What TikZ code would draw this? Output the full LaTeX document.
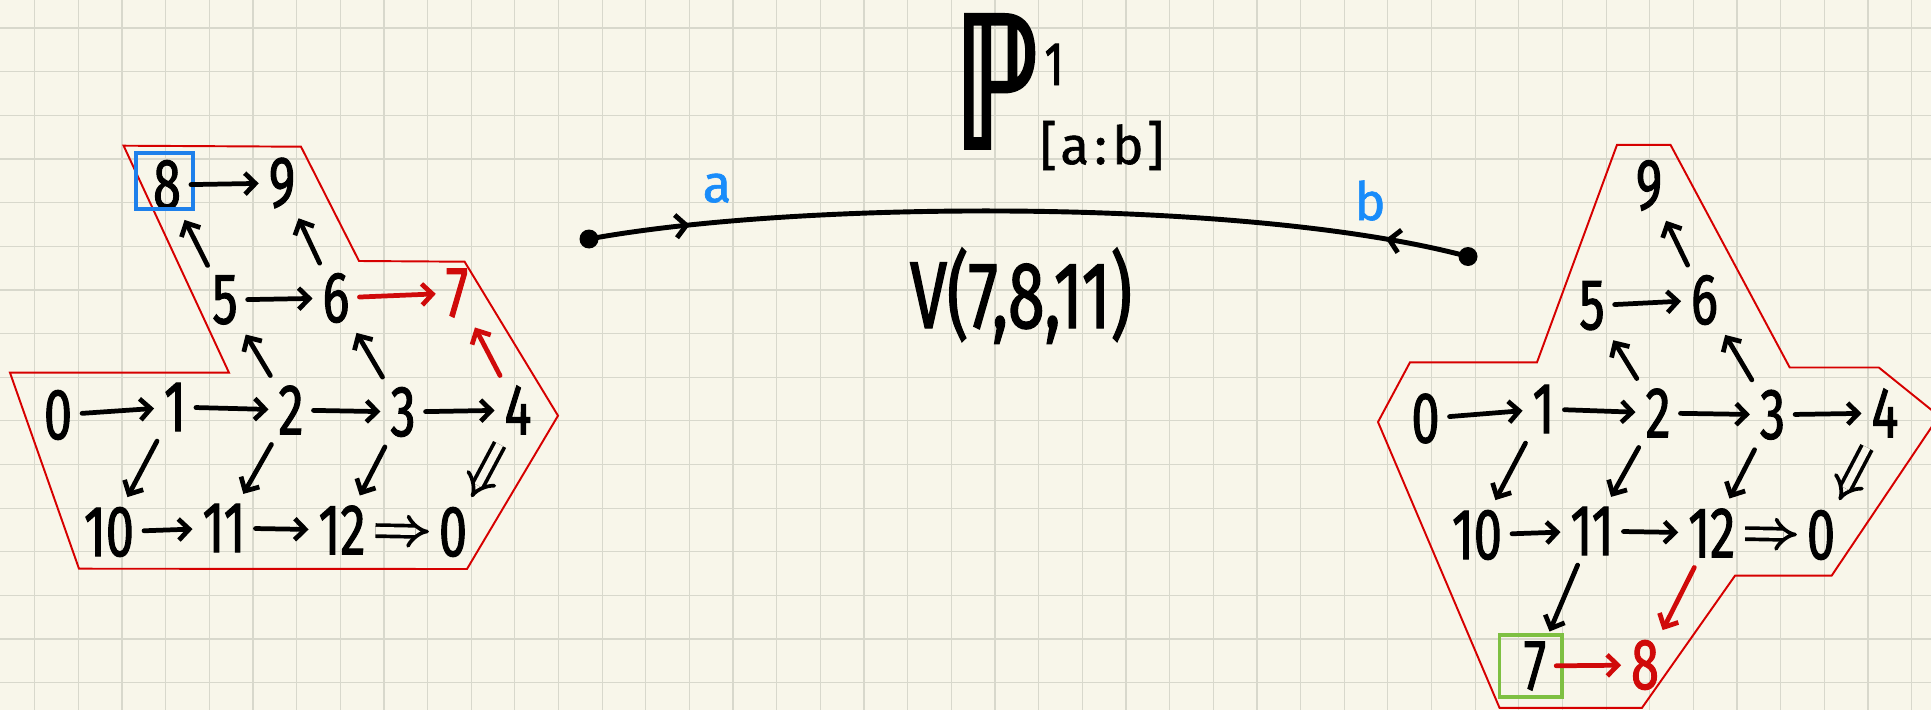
\documentclass[tikz,border=0pt]{standalone}
\usepackage{fontspec}
\setmainfont{Fira Sans}[FakeBold=1.2]
\newfontfamily\hand{Fira Sans}[FakeStretch=0.7,FakeBold=1.4]
\newfontfamily\dejavu{DejaVu Sans}[FakeStretch=0.65,FakeBold=2]
\usetikzlibrary{arrows.meta,decorations.markings,calc}
\definecolor{paper}{RGB}{248,246,234}
\definecolor{gridc}{RGB}{216,216,204}
\definecolor{pred}{RGB}{214,0,0}
\definecolor{ared}{RGB}{208,10,10}
\definecolor{bboxc}{RGB}{30,128,235}
\definecolor{gboxc}{RGB}{126,192,66}
\definecolor{lblue}{RGB}{25,140,250}
\begin{document}
\begin{tikzpicture}[x=0.02cm,y=-0.02cm,
  num/.style={inner sep=5.5pt, font=\hand\fontsize{41}{41}\selectfont},
  rednum/.style={num, text=ared},
  arr/.style={line width=2.7pt, line cap=round, -{Straight Barb[length=6pt,width=12pt]}},
  redarr/.style={arr, draw=ared},
  dbl/.style={line width=2.1pt, double=paper, double distance=4.2pt, -{Implies[length=7pt,width=17pt]}},
  region/.style={draw=pred, line width=1.1pt, line join=miter},
  gline/.style={draw=gridc, line width=0.7pt},
  dotnode/.style={circle, fill=black, inner sep=0pt, minimum size=0.38cm},
  pathcurve/.style={line width=2.8pt, postaction={decorate},
    decoration={markings,
      mark=at position 0.115 with {\arrow{Straight Barb[length=6pt,width=13pt]}},
      mark=at position 0.905 with {\arrowreversed{Straight Barb[length=6pt,width=13pt]}}}},
  lbl/.style={text=lblue, font=\fontsize{30}{30}\selectfont, anchor=base, inner sep=0pt},
  ttl/.style={anchor=base, inner sep=0pt},
  boxb/.style={draw=bboxc, line width=2.2pt},
  boxg/.style={draw=gboxc, line width=2.2pt}
]
\useasboundingbox (0,0) rectangle (1931,710);
\clip (0,0) rectangle (1931,710);
\fill[paper] (0,0) rectangle (1931,710);
\foreach \i in {0,...,43} \draw[gline] ({34.7+43.65*\i},0) -- ++(0,710);
\foreach \j in {0,...,15} \draw[gline] (0,{28+43.65*\j}) -- ++(1931,0);

% regions
\draw[region] (123.6,145.7) -- (301,146.7) -- (359,261) -- (464.6,261.7) -- (558,415.7)
  -- (467,569) -- (79,568.7) -- (10,372.7) -- (229,372.7) -- cycle;
\draw[region] (1617,144.8) -- (1670.5,144.8) -- (1789.7,367.5) -- (1878.8,367.5) -- (1939,416)
  -- (1831.6,575.7) -- (1735,575.7) -- (1642,707.8) -- (1499.5,707.8) -- (1378,422)
  -- (1410,362.3) -- (1537,362.3) -- cycle;

% left graph
\node[num] (L8) at (167,185) {8};
\node[num] (L9) at (282,183) {9};
\node[num] (L5) at (225,300) {5};
\node[num] (L6) at (336,298) {6};
\node[rednum] (L7) at (457,293) {7};
\node[num] (L0) at (58,415) {0};
\node[num] (L1) at (175,407) {1};
\node[num] (L2) at (291,410) {2};
\node[num] (L3) at (403,412) {3};
\node[num] (L4) at (518,410) {4};
\node[num] (L10) at (109,532) {10};
\node[num] (L11) at (224,528) {11};
\node[num] (L12) at (342,530) {12};
\node[num] (L0b) at (453,532) {0};
\draw[boxb] (135.6,152.7) rectangle (192.7,209.3);

\draw[arr] (L0) -- (L1);
\draw[arr] (L1) -- (L2);
\draw[arr] (L2) -- (L3);
\draw[arr] (L3) -- (L4);
\draw[arr] (L1) -- (L10);
\draw[arr] (L2) -- (L11);
\draw[arr] (L3) -- (L12);
\draw[dbl] (L4) -- (L0b);
\draw[arr] (L10) -- (L11);
\draw[arr] (L11) -- (L12);
\draw[dbl] (L12) -- (L0b);
\draw[arr] (L5) -- (L6);
\draw[arr] (L2) -- (L5);
\draw[arr] (L3) -- (L6);
\draw[arr] (L5) -- (L8);
\draw[arr] (L6) -- (L9);
\draw[arr] (L8) -- (L9);
\draw[redarr] (L6) -- (L7);
\draw[redarr] (L4) -- (L7);

% right graph
\node[num] (R9) at (1649,185.5) {9};
\node[num] (R5) at (1592,305.7) {5};
\node[num] (R6) at (1704.5,300) {6};
\node[num] (R0) at (1425.5,418.5) {0};
\node[num] (R1) at (1543.5,409) {1};
\node[num] (R2) at (1658,413) {2};
\node[num] (R3) at (1772.5,414.8) {3};
\node[num] (R4) at (1885,413) {4};
\node[num] (R10) at (1477,535) {10};
\node[num] (R11) at (1592,531) {11};
\node[num] (R12) at (1711.7,533) {12};
\node[num] (R0b) at (1821,535) {0};
\node[num] (R7) at (1535,666) {7};
\node[rednum] (R8) at (1645,665) {8};
\draw[boxg] (1499.5,635) rectangle (1562,697);

\draw[arr] (R0) -- (R1);
\draw[arr] (R1) -- (R2);
\draw[arr] (R2) -- (R3);
\draw[arr] (R3) -- (R4);
\draw[arr] (R1) -- (R10);
\draw[arr] (R2) -- (R11);
\draw[arr] (R3) -- (R12);
\draw[dbl] (R4) -- (R0b);
\draw[arr] (R10) -- (R11);
\draw[arr] (R11) -- (R12);
\draw[dbl] (R12) -- (R0b);
\draw[arr] (R5) -- (R6);
\draw[arr] (R2) -- (R5);
\draw[arr] (R3) -- (R6);
\draw[arr] (R6) -- (R9);
\draw[arr] (R11) -- (R7);
\draw[redarr] (R12) -- (R8);
\draw[redarr] (R7) -- (R8);

% middle
\node[dotnode] (A) at (589,239) {};
\node[dotnode] (B) at (1468,256.5) {};
\draw[pathcurve] (A.center) .. controls (800,200) and (1250,198) .. (B.center);
\node[lbl] (la) at (717,202) {a};
\node[lbl] (lb) at (1370,220) {b};
\node[ttl, font=\dejavu\fontsize{104}{104}\selectfont] (P) at (996,148) {ℙ};
\node[ttl, font=\hand\fontsize{35}{35}\selectfont] (Psup) at (1054,85) {1};
\node[ttl, font=\fontsize{30}{30}\selectfont] (Psub) at (1102,164) {[\kern2pt a\kern3pt:\kern3pt b\kern2pt]};
\node[ttl, font=\hand\fontsize{54}{54}\selectfont] (V) at (1021,328) {V(7,8,11)};
\end{tikzpicture}
\end{document}
